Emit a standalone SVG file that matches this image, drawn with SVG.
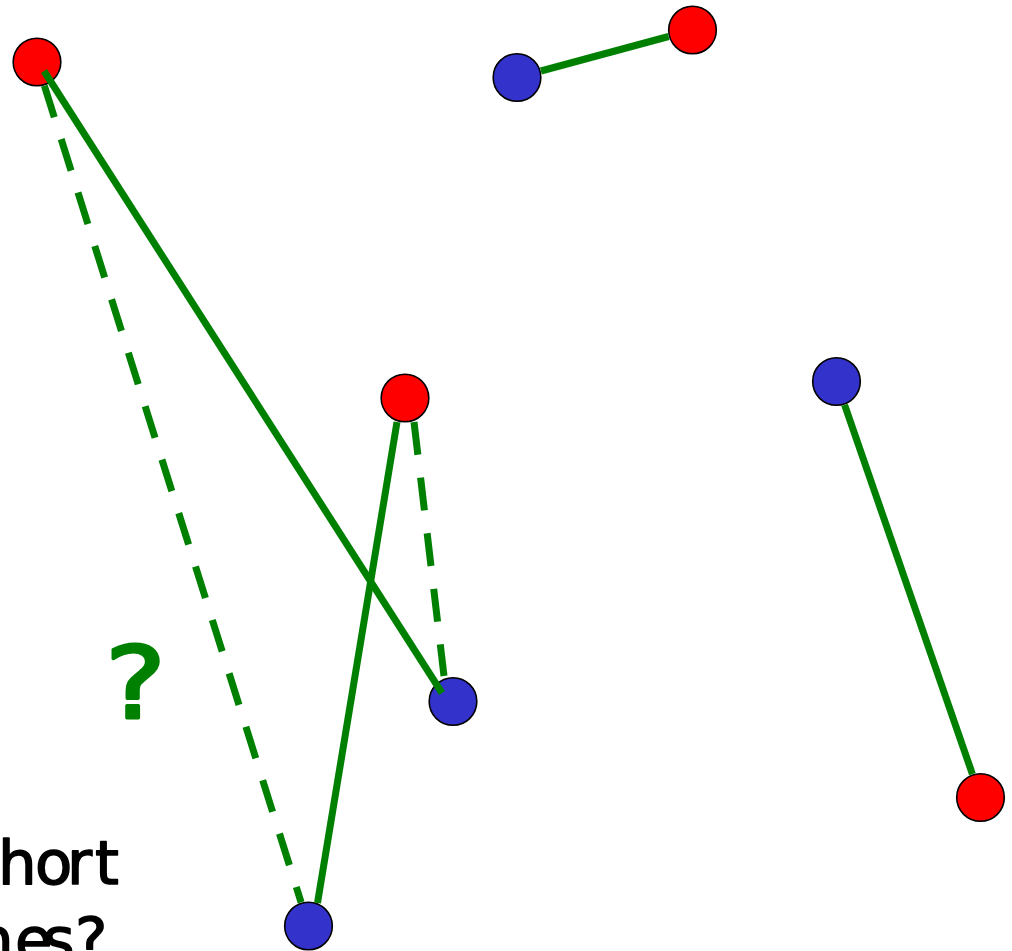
<svg xmlns="http://www.w3.org/2000/svg" width="1012" height="951" viewBox="0 0 1012 951">
<style>
.red{fill:#FF0000;stroke:#000;stroke-width:1.6}
.blue{fill:#3333CC;stroke:#000;stroke-width:1.6}
.edge{stroke:#008000;stroke-width:7;fill:none;stroke-linecap:butt}
.dash{stroke-dasharray:33 23}
.lbl{font-family:'DejaVu Sans',sans-serif;font-size:61px;fill:#000;stroke:#000;stroke-width:1.5;stroke-linejoin:round}
.q{font-family:'DejaVu Sans',sans-serif;font-size:100px;fill:#008000;stroke:#008000;stroke-width:3;stroke-linejoin:round}
</style>
<rect width="1012" height="951" fill="#fff"/>
<g id="nodes">
<g id="nA"><circle class="red" cx="37" cy="62" r="23.8"/></g>
<g id="nB"><circle class="blue" cx="517" cy="77.5" r="23.8"/></g>
<g id="nC"><circle class="red" cx="692.5" cy="30" r="23.8"/></g>
<g id="nD"><circle class="red" cx="405" cy="398" r="23.8"/></g>
<g id="nE"><circle class="blue" cx="836.5" cy="381.5" r="23.8"/></g>
<g id="nF"><circle class="blue" cx="453" cy="701.5" r="23.8"/></g>
<g id="nG"><circle class="red" cx="980.5" cy="797.5" r="23.8"/></g>
<g id="nH"><circle class="blue" cx="308.5" cy="926" r="23.8"/></g>
</g>
<g id="connectors">
<line class="edge" x1="540.9" y1="71" x2="668.6" y2="36.5"/>
<line class="edge" x1="844.6" y1="404.9" x2="972.4" y2="774.1"/>
<line class="edge" x1="397" y1="422" x2="317.5" y2="903"/>
<line class="edge dash" x1="414" y1="422" x2="444" y2="676"/>
<line class="edge dash" x1="44.4" y1="85.7" x2="301.1" y2="902.4"/>
<line class="edge" x1="44" y1="71" x2="442" y2="693"/>
</g>
<g id="labels">
<text class="q" transform="translate(105,718) scale(1.15,1)" x="0" y="0">?</text>
<text class="lbl" x="-2 35 67 95" y="884">hort</text>
<text class="lbl" x="-25 15 43 75" y="961">nes?</text>
</g>
</svg>
